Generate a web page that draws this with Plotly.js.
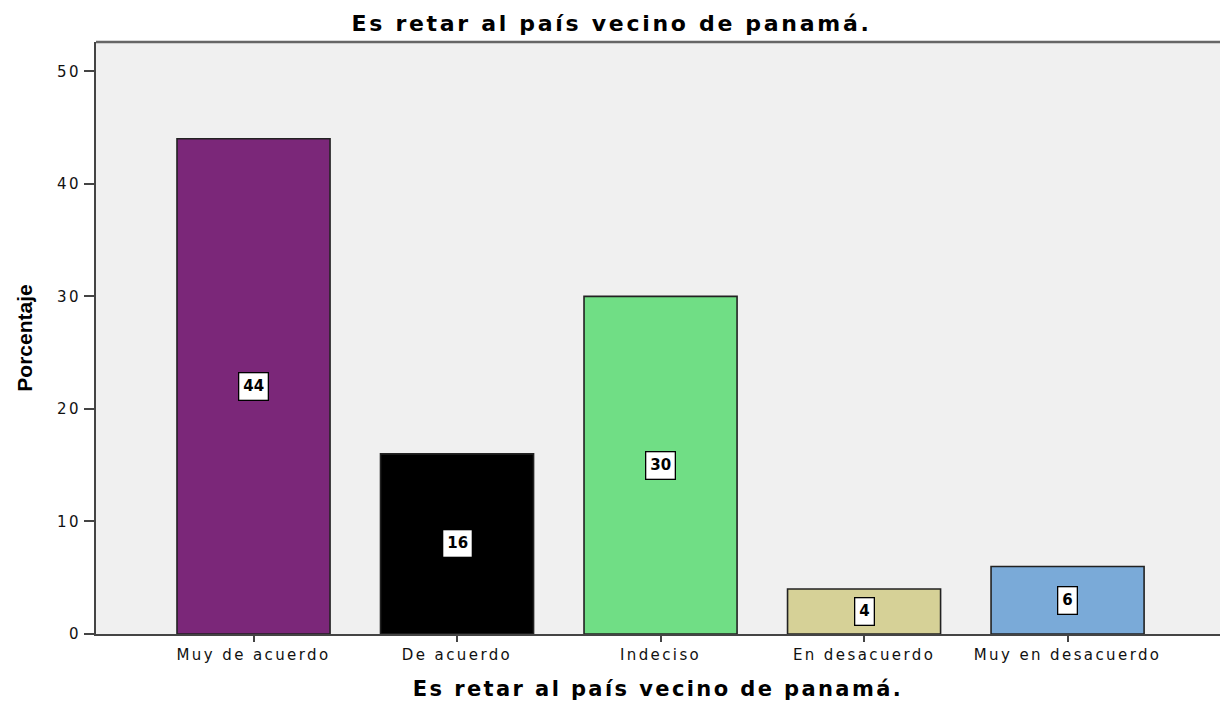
<!DOCTYPE html>
<html>
<head>
<meta charset="utf-8">
<script src="https://cdn.plot.ly/plotly-3.0.1.min.js"></script>
<style>
html,body{margin:0;padding:0;background:#fff;}
#chart{width:1223px;height:701px;}
#chart .xtick text, #chart .ytick text { letter-spacing: 2.4px; }
#chart .gtitle { letter-spacing: 2.7px; }
#chart .g-xtitle text { letter-spacing: 2.4px; }
</style>
</head>
<body>
<div id="chart"></div>
<script>
const categories = ["Muy de acuerdo", "De acuerdo", "Indeciso", "En desacuerdo", "Muy en desacuerdo"];
const values = [44, 16, 30, 4, 6];
const barColors = ["#7B2779", "#000000", "#70DE85", "#D6D197", "#7AAAD8"];
const yTicks = [0, 10, 20, 30, 40, 50];
const chartTitle = "Es retar al país vecino de panamá.";
const yTitle = "Porcentaje";

const trace = {
  type: "bar",
  x: categories,
  y: values,
  width: 0.752,
  marker: {color: barColors, line: {color: "#222222", width: 1.6}},
  hoverinfo: "none"
};

const annotations = categories.map((c, i) => ({
  x: c, y: values[i] / 2, xref: "x", yref: "y",
  text: "<b>" + values[i] + "</b>",
  showarrow: false,
  bgcolor: "#ffffff",
  bordercolor: "#000000",
  borderwidth: 1.3,
  borderpad: 4,
  font: {family: "DejaVu Sans", size: 15, color: "#000"}
}));

const layout = {
  width: 1223, height: 701,
  margin: {l: 96, r: 3, t: 42, b: 67},
  paper_bgcolor: "#ffffff",
  plot_bgcolor: "#F0F0F0",
  showlegend: false,
  title: {
    text: "<b>" + chartTitle + "</b>",
    xref: "container", x: 0.5, xanchor: "center",
    yref: "container", y: 0.967, yanchor: "middle",
    font: {family: "DejaVu Sans", size: 22, color: "#000"}
  },
  xaxis: {
    type: "category",
    range: [-0.774, 4.749],
    showline: true, linecolor: "#444444", linewidth: 2,
    ticks: "outside", ticklen: 6, tickwidth: 2, tickcolor: "#444444",
    showgrid: false, zeroline: false,
    tickfont: {family: "DejaVu Sans", size: 15, color: "#111"},
    title: {text: "<b>" + chartTitle + "</b>", standoff: 19,
            font: {family: "DejaVu Sans", size: 21, color: "#000"}}
  },
  yaxis: {
    range: [0, 52.6],
    tickvals: yTicks,
    showline: true, linecolor: "#444444", linewidth: 2,
    ticks: "outside", ticklen: 10, tickwidth: 2, tickcolor: "#444444",
    showgrid: false, zeroline: false,
    tickfont: {family: "DejaVu Sans", size: 15, color: "#111"},
    title: {text: "<b>" + yTitle + "</b>", standoff: 24,
            font: {family: "Liberation Sans Narrow, Liberation Sans, Arial", size: 21, color: "#000"}}
  },
  shapes: [{
    type: "line", xref: "paper", yref: "paper", x0: 0, x1: 1, y0: 1, y1: 1,
    line: {color: "#666666", width: 2.5}
  }],
  annotations: annotations
};

Plotly.newPlot("chart", [trace], layout, {displayModeBar: false, staticPlot: true});
</script>
</body>
</html>
